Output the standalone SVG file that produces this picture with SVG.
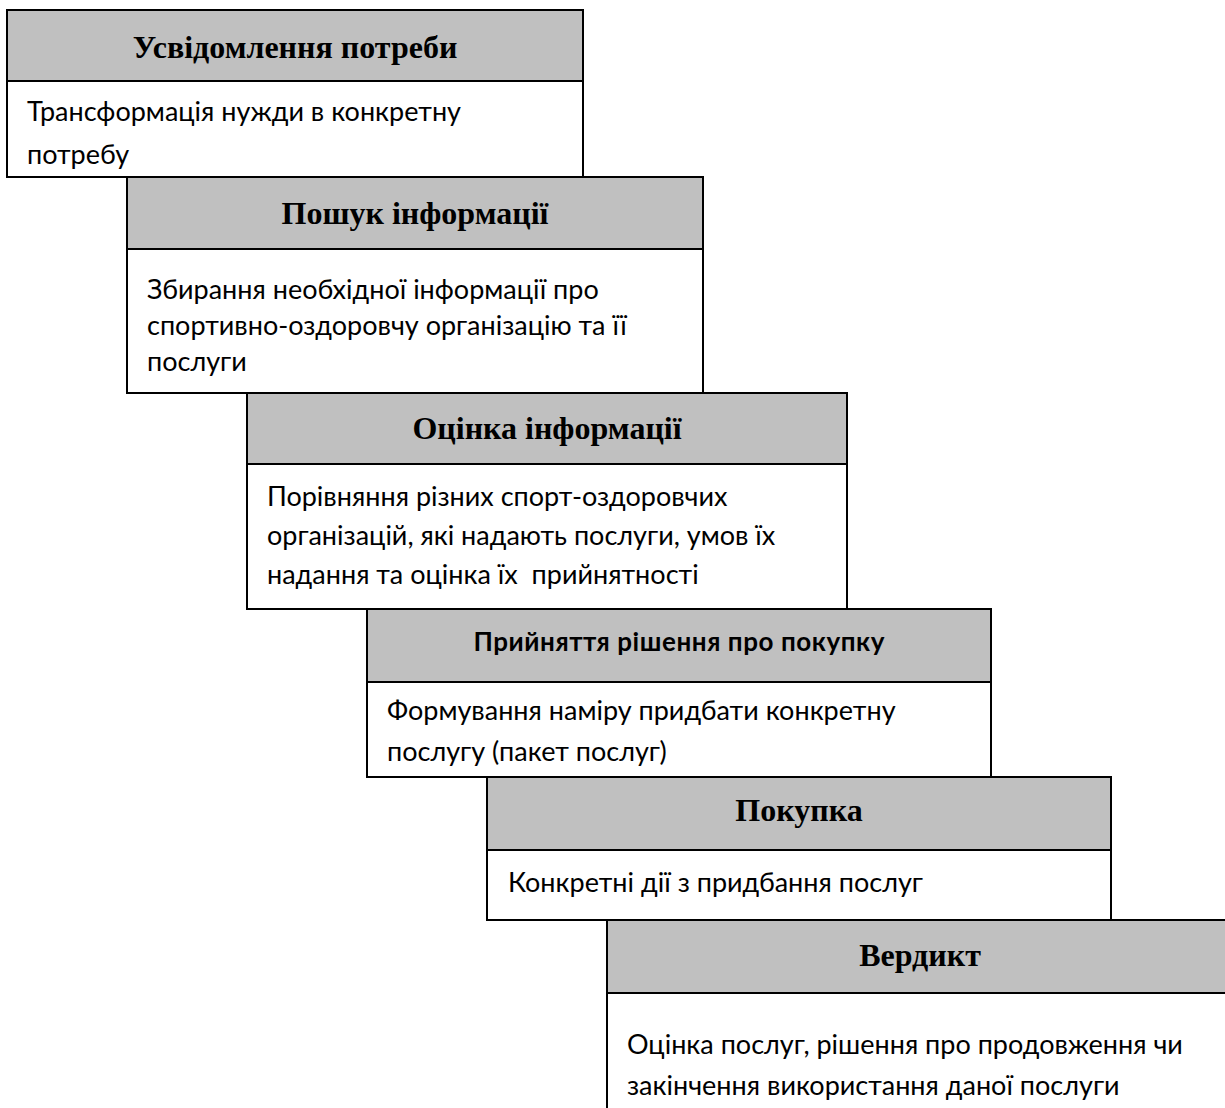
<svg xmlns="http://www.w3.org/2000/svg" width="1225" height="1108" viewBox="0 0 1225 1108">
<style>
.hd{fill:#c0c0c0;stroke:#000;stroke-width:2}
.bd{fill:#fff;stroke:#000;stroke-width:2}
.ht{font-family:"Liberation Serif",serif;font-weight:bold;font-size:32px;fill:#000;text-anchor:middle}
.ht2{font-family:Lato,"Open Sans",sans-serif;font-weight:bold;font-size:26px;fill:#000;text-anchor:middle}
.bt{font-family:Lato,"Open Sans",sans-serif;font-size:27px;fill:#000}
</style>
<rect width="1225" height="1108" fill="#fff"/>
<g id="connectors"></g>
<g id="n1">
<rect class="bd" x="7" y="81" width="576" height="96"/>
<rect class="hd" x="7" y="10" width="576" height="71"/>
<text class="ht" x="295" y="58">Усвідомлення потреби</text>
<text class="bt" x="27" y="121">Трансформація нужди в конкретну</text>
<text class="bt" x="27" y="164">потребу</text>
</g>
<g id="n2">
<rect class="bd" x="127" y="249" width="576" height="144"/>
<rect class="hd" x="127" y="177" width="576" height="72"/>
<text class="ht" x="415" y="224">Пошук інформації</text>
<text class="bt" x="147" y="299">Збирання необхідної інформації про</text>
<text class="bt" x="147" y="335">спортивно-оздоровчу організацію та її</text>
<text class="bt" x="147" y="371">послуги</text>
</g>
<g id="n3">
<rect class="bd" x="247" y="464" width="600" height="145"/>
<rect class="hd" x="247" y="393" width="600" height="71"/>
<text class="ht" x="547" y="439">Оцінка інформації</text>
<text class="bt" x="267" y="506">Порівняння різних спорт-оздоровчих</text>
<text class="bt" x="267" y="545">організацій, які надають послуги, умов їх</text>
<text class="bt" x="267" y="584" xml:space="preserve">надання та оцінка їх  прийнятності</text>
</g>
<g id="n4">
<rect class="bd" x="367" y="682" width="624" height="95"/>
<rect class="hd" x="367" y="609" width="624" height="73"/>
<text class="ht2" x="679" y="651" textLength="411" lengthAdjust="spacing">Прийняття рішення про покупку</text>
<text class="bt" x="387" y="720">Формування наміру придбати конкретну</text>
<text class="bt" x="387" y="761">послугу (пакет послуг)</text>
</g>
<g id="n5">
<rect class="bd" x="487" y="850" width="624" height="70"/>
<rect class="hd" x="487" y="777" width="624" height="73"/>
<text class="ht" x="799" y="821">Покупка</text>
<text class="bt" x="508" y="892">Конкретні дії з придбання послуг</text>
</g>
<g id="n6">
<rect class="bd" x="607" y="993" width="626" height="130"/>
<rect class="hd" x="607" y="920" width="626" height="73"/>
<text class="ht" x="920" y="966">Вердикт</text>
<text class="bt" x="627" y="1054">Оцінка послуг, рішення про продовження чи</text>
<text class="bt" x="627" y="1095">закінчення використання даної послуги</text>
</g>
</svg>
